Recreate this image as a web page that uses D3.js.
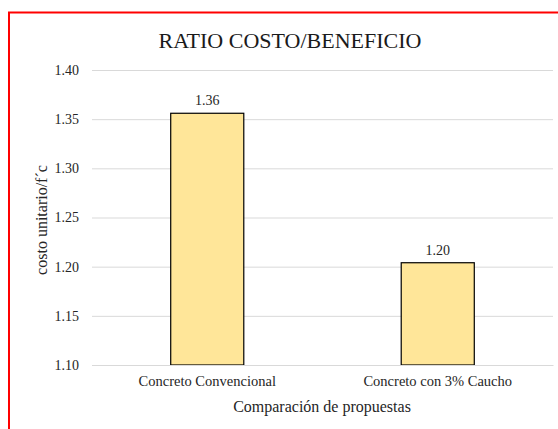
<!DOCTYPE html>
<html><head><meta charset="utf-8">
<script src="https://cdn.jsdelivr.net/npm/d3@7"></script>
<style>body{margin:0;background:#fff}svg{display:block}</style>
</head><body><svg id="c" width="558" height="429" font-family="'Liberation Serif', 'Times New Roman', serif"></svg>
<script>
const categories = ["Concreto Convencional", "Concreto con 3% Caucho"];
const values = [1.356, 1.204];
const valueLabels = ["1.36", "1.20"];
const yTicks = [1.10, 1.15, 1.20, 1.25, 1.30, 1.35, 1.40];
const title = "RATIO COSTO/BENEFICIO";
const yTitle = "costo unitario/f\u00B4c";
const xTitle = "Comparación de propuestas";

const FONT = "'Liberation Serif', 'Times New Roman', serif";
const svg = d3.select("#c");
svg.append("rect").attr("x",9).attr("y",12.5).attr("width",560).attr("height",430)
  .attr("fill","#fff").attr("stroke","#f00").attr("stroke-width",2);

const m = {l:92, r:553, t:70, b:365};
const x = d3.scaleBand().domain(categories).range([m.l, m.r]).paddingInner(0.683).paddingOuter(0.3415);
const y = d3.scaleLinear().domain([1.10, 1.40]).range([m.b, m.t]);

const ya = svg.append("g").attr("transform",`translate(${m.l},0)`)
  .call(d3.axisLeft(y).tickValues(yTicks).tickFormat(d3.format(".2f")).tickSize(-(m.r-m.l)).tickPadding(13))
  .attr("font-family", FONT);
ya.select(".domain").remove();
ya.selectAll(".tick line").attr("stroke","#d9d9d9").attr("stroke-width",1);
ya.selectAll(".tick text").attr("font-size",14).attr("fill","#262626").style("font-family", FONT);

svg.selectAll("rect.bar").data(values).enter().append("rect").attr("class","bar")
  .attr("x",(d,i)=>x(categories[i])).attr("width",x.bandwidth())
  .attr("y",d=>y(d)).attr("height",d=>y(1.10)-y(d))
  .attr("fill","#ffe699").attr("stroke","#000").attr("stroke-width",1.2);

svg.selectAll("text.vl").data(values).enter().append("text").attr("class","vl")
  .attr("x",(d,i)=>x(categories[i])+x.bandwidth()/2).attr("y",d=>y(d)-8)
  .attr("text-anchor","middle").attr("font-size",14).attr("fill","#262626").style("font-family", FONT).text((d,i)=>valueLabels[i]);

const xa = svg.append("g").attr("transform",`translate(0,${m.b})`)
  .call(d3.axisBottom(x).tickSize(0).tickPadding(11))
  .attr("font-family", FONT);
xa.select(".domain").attr("stroke","#d9d9d9");
xa.selectAll(".tick text").attr("font-size",14.5).attr("fill","#262626").style("font-family", FONT);

svg.append("text").attr("x",290).attr("y",48).attr("text-anchor","middle").attr("font-size",22).attr("fill","#1a1a1a").style("font-family", FONT).text(title);
svg.append("text").attr("x",322).attr("y",412).attr("text-anchor","middle").attr("font-size",16).attr("fill","#262626").style("font-family", FONT).text(xTitle);
svg.append("text").attr("transform","translate(47,220) rotate(-90)").attr("text-anchor","middle").attr("font-size",16).attr("fill","#262626").style("font-family", FONT).text(yTitle);
</script></body></html>
